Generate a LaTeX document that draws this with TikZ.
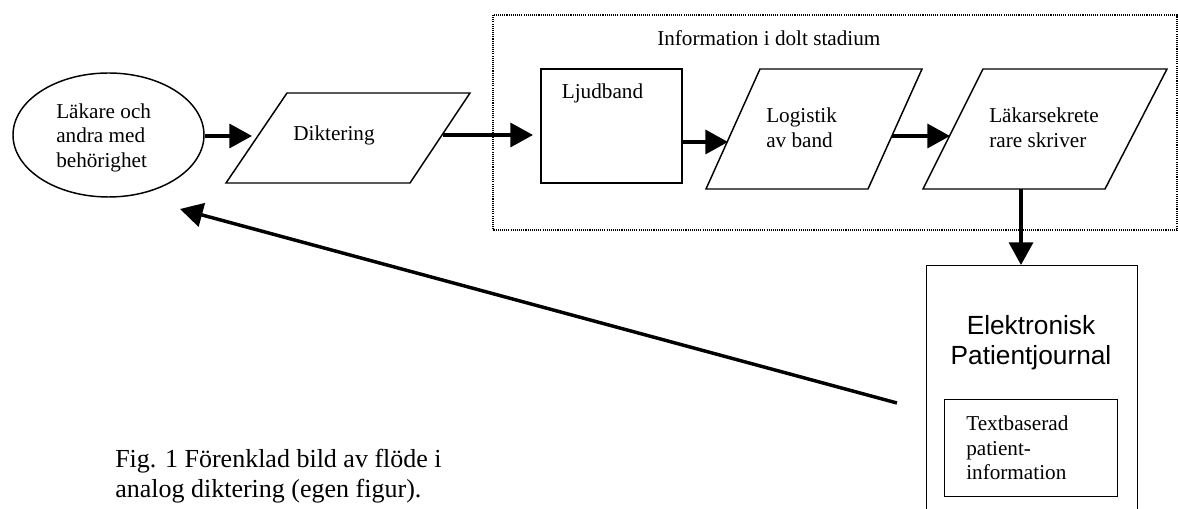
\documentclass[tikz,border=0pt]{standalone}
\usepackage{fontspec}
\setmainfont{Liberation Serif}
\newfontfamily\arialf{Liberation Sans}
\usetikzlibrary{arrows.meta,shapes.geometric}
\tikzset{
  shapeline/.style={draw=black, line width=1.1pt, line join=miter},
  arr/.style={draw=black, line width=2.6pt, -{Triangle[length=17pt,width=18pt]}},
  boxtxt/.style={font=\fontsize{15.9}{18.4}\selectfont, inner sep=0pt, align=left},
  captxt/.style={font=\fontsize{19.5}{22.2}\selectfont, inner sep=0pt, align=left},
  epjtxt/.style={font=\arialf\fontsize{19.7}{22.5}\selectfont, inner sep=0pt, align=center},
  dotbox/.style={draw=black, line width=0.8pt, dash pattern=on 0.8pt off 0.8pt}
}
\begin{document}
\begin{tikzpicture}[x=0.75pt,y=-0.75pt]
\useasboundingbox[fill=white] (0,0) rectangle (1178,509);

% dotted region
\draw[dotbox] (493,15) rectangle (1177,230);
\node[boxtxt, anchor=west] (info) at (657,38) {Information i dolt stadium};

% ellipse
\node[shapeline, ellipse, minimum width=143.25pt, minimum height=93pt, inner sep=0pt] (lak) at (108.5,135) {};
\node[boxtxt, anchor=west] (lakt) at (56,137.5) {Läkare och\\andra med\\behörighet};

% Diktering parallelogram
\draw[shapeline] (226,183) -- (287,93) -- (470,93) -- (410,183) -- cycle;
\node[boxtxt] (dik) at (334,135) {Diktering};
\coordinate (dikin) at (252,136);
\coordinate (dikout) at (443,135);

% Ljudband
\node[shapeline, rectangle, minimum width=105.75pt, minimum height=85.5pt, inner sep=0pt] (ljud) at (611.5,126) {};
\node[boxtxt] (ljudt) at (602.5,93) {Ljudband};
\coordinate (ljudin) at (533,135);
\coordinate (ljudout) at (682,142);

% Logistik
\draw[shapeline] (706,189) -- (760,69) -- (922,69) -- (868,189) -- cycle;
\node[boxtxt, anchor=west] (log) at (766,128) {Logistik\\av band};
\coordinate (login) at (728,142);
\coordinate (logout) at (892,136);

% Läkarsekreterare
\draw[shapeline] (923,189) -- (983,69) -- (1167,69) -- (1105,189) -- cycle;
\node[boxtxt, anchor=west] (sek) at (989,128) {Läkarsekrete\\rare skriver};
\coordinate (sekin) at (950,136);
\coordinate (sekout) at (1021,189);

% EPJ
\node[shapeline, rectangle, minimum width=158.25pt, minimum height=210pt, inner sep=0pt, anchor=north west] (epj) at (926,265) {};
\node[epjtxt] (epjt) at (1031,342.5) {Elektronisk\\Patientjournal};
\node[shapeline, rectangle, minimum width=129.75pt, minimum height=72.75pt, inner sep=0pt, anchor=north west] (tb) at (944,399) {};
\node[boxtxt, anchor=west] (tbt) at (966,448) {Textbaserad\\patient-\\information};
\coordinate (epjin) at (1021,265);
\coordinate (epjout) at (897,403);
\coordinate (lakin) at (180,209);

% arrows
\draw[arr] (lak.east |- dikin) -- (dikin);
\draw[arr] (dikout) -- (ljudin);
\draw[arr] (ljudout) -- (login);
\draw[arr] (logout) -- (sekin);
\draw[arr] (sekout) -- (epjin);
\draw[arr] (epjout) -- (lakin);

% caption
\node[captxt, anchor=west] (cap) at (115,476) {Fig. 1 Förenklad bild av flöde i\\analog diktering (egen figur).};
\end{tikzpicture}
\end{document}
